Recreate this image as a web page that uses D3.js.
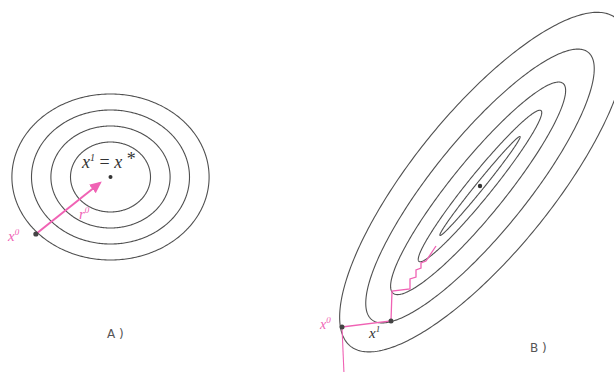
<!DOCTYPE html>
<html>
<head>
    <script src="https://d3js.org/d3.v7.min.js"></script>
    <style>
        body { margin: 0; background: #fff; }
    </style>
</head>
<body>
    <svg width="614" height="372" id="mainSvg"></svg>
    <script>
        // panel A: concentric level sets, semi-axes in units
        const ringRx = [2.0, 2.98, 3.95, 4.93];
        const ringRy = [1.75, 2.55, 3.35, 4.15];
        const startA = [-3.73, -2.85];
        const arrowEndA = [-0.53, -0.3];

        // panel B: elongated level sets (rotated)
        const angleB = 51;
        const contourA = [3.18, 4.85, 6.75, 8.6, 10.55];
        const contourB = [0.2, 0.6, 1.35, 2.35, 3.5];
        const contourShift = [0, 0, -0.15, 0, 0.25];
        const pathB = [
            [-6.9, -7.05], [-4.45, -6.75], [-4.4, -5.25], [-3.5, -5.15],
            [-3.5, -4.65], [-3.2, -4.55], [-3.2, -4.2], [-2.95, -4.1],
            [-2.95, -3.85], [-2.7, -3.75], [-2.2, -3.0]
        ];
        const tailB = [[-6.9, -7.05], [-6.8, -9.4]];

        const svg = d3.select("#mainSvg");
        const ink = "#505050";
        const pink = "#f062b4";

        const xA = d3.scaleLinear().domain([-6, 6]).range([110.5 - 120, 110.5 + 120]);
        const yA = d3.scaleLinear().domain([-6, 6]).range([177 + 120, 177 - 120]);
        const xB = d3.scaleLinear().domain([-10, 10]).range([480 - 200, 480 + 200]);
        const yB = d3.scaleLinear().domain([-10, 10]).range([186 + 200, 186 - 200]);

        const ts = d3.range(0, 2 * Math.PI, Math.PI / 180);

        const ellipsePts = (a, b, shift, deg) => {
            const th = deg * Math.PI / 180;
            return ts.map(t => {
                const u = shift + a * Math.cos(t), v = b * Math.sin(t);
                return [u * Math.cos(th) - v * Math.sin(th), u * Math.sin(th) + v * Math.cos(th)];
            });
        };

        const lineA = d3.line().x(d => xA(d[0])).y(d => yA(d[1])).curve(d3.curveLinearClosed);
        const lineB = d3.line().x(d => xB(d[0])).y(d => yB(d[1])).curve(d3.curveLinearClosed);
        const openB = d3.line().x(d => xB(d[0])).y(d => yB(d[1]));

        svg.append("defs").append("marker")
            .attr("id", "head")
            .attr("viewBox", "0 0 10 10")
            .attr("refX", 8).attr("refY", 5)
            .attr("markerWidth", 6).attr("markerHeight", 6)
            .attr("orient", "auto")
            .append("path").attr("d", "M0,0.5L10,5L0,9.5z").attr("fill", pink);

        // ---- panel A
        const gA = svg.append("g");
        gA.selectAll(".ring")
            .data(ringRx)
            .join("path")
            .attr("class", "ring")
            .attr("d", (d, i) => lineA(ellipsePts(d, ringRy[i], 0, 0)))
            .attr("fill", "none").attr("stroke", ink).attr("stroke-width", 1.1);

        gA.append("line")
            .attr("x1", xA(startA[0])).attr("y1", yA(startA[1]))
            .attr("x2", xA(arrowEndA[0])).attr("y2", yA(arrowEndA[1]))
            .attr("stroke", pink).attr("stroke-width", 2)
            .attr("marker-end", "url(#head)");

        gA.append("circle").attr("cx", xA(0)).attr("cy", yA(0)).attr("r", 2).attr("fill", "#333");
        gA.append("circle").attr("cx", xA(startA[0])).attr("cy", yA(startA[1])).attr("r", 2.6).attr("fill", "#444");

        const serif = "'Liberation Serif', 'DejaVu Serif', serif";
        const tA = gA.append("text")
            .attr("x", 82).attr("y", 168)
            .attr("font-family", serif).attr("font-size", 18).attr("fill", "#333");
        tA.append("tspan").attr("font-style", "italic").text("x");
        tA.append("tspan").attr("font-size", 10).attr("font-style", "italic").attr("dy", -7).text("1");
        tA.append("tspan").attr("dy", 7).text(" = ");
        tA.append("tspan").attr("font-style", "italic").text("x");
        tA.append("tspan").attr("dy", -3).text(" *");

        const x0A = gA.append("text")
            .attr("x", 8).attr("y", 241)
            .attr("font-family", serif).attr("font-size", 15).attr("fill", pink);
        x0A.append("tspan").attr("font-style", "italic").text("x");
        x0A.append("tspan").attr("font-size", 9).attr("font-style", "italic").attr("dy", -6).text("0");

        const r0A = gA.append("text")
            .attr("x", 79).attr("y", 219)
            .attr("font-family", serif).attr("font-size", 15).attr("fill", pink);
        r0A.append("tspan").attr("font-style", "italic").text("r");
        r0A.append("tspan").attr("font-size", 9).attr("font-style", "italic").attr("dy", -6).text("0");

        gA.append("text").attr("x", 107).attr("y", 338)
            .attr("font-family", "'DejaVu Sans', sans-serif").attr("font-size", 12)
            .attr("fill", "#555").text("A )");

        // ---- panel B
        const gB = svg.append("g");
        gB.selectAll(".contour")
            .data(contourA)
            .join("path")
            .attr("class", "contour")
            .attr("d", (d, i) => lineB(ellipsePts(d, contourB[i], contourShift[i], angleB)))
            .attr("fill", "none").attr("stroke", ink).attr("stroke-width", 1.1);

        gB.append("path").attr("d", openB(tailB))
            .attr("fill", "none").attr("stroke", pink).attr("stroke-width", 1.1);
        gB.append("path").attr("d", openB(pathB))
            .attr("fill", "none").attr("stroke", pink).attr("stroke-width", 1.3);

        gB.append("circle").attr("cx", xB(0)).attr("cy", yB(0)).attr("r", 2.2).attr("fill", "#333");
        gB.selectAll(".iter")
            .data(pathB.slice(0, 2))
            .join("circle")
            .attr("class", "iter")
            .attr("cx", d => xB(d[0])).attr("cy", d => yB(d[1]))
            .attr("r", 2.5).attr("fill", "#444");

        const x0B = gB.append("text")
            .attr("x", 320).attr("y", 329)
            .attr("font-family", serif).attr("font-size", 14).attr("fill", pink);
        x0B.append("tspan").attr("font-style", "italic").text("x");
        x0B.append("tspan").attr("font-size", 9).attr("font-style", "italic").attr("dy", -6).text("0");

        const x1B = gB.append("text")
            .attr("x", 369).attr("y", 338)
            .attr("font-family", serif).attr("font-size", 15).attr("fill", "#333");
        x1B.append("tspan").attr("font-style", "italic").text("x");
        x1B.append("tspan").attr("font-size", 9).attr("font-style", "italic").attr("dy", -6).text("1");

        gB.append("text").attr("x", 530).attr("y", 352)
            .attr("font-family", "'DejaVu Sans', sans-serif").attr("font-size", 12)
            .attr("fill", "#555").text("B )");
    </script>
</body>
</html>
